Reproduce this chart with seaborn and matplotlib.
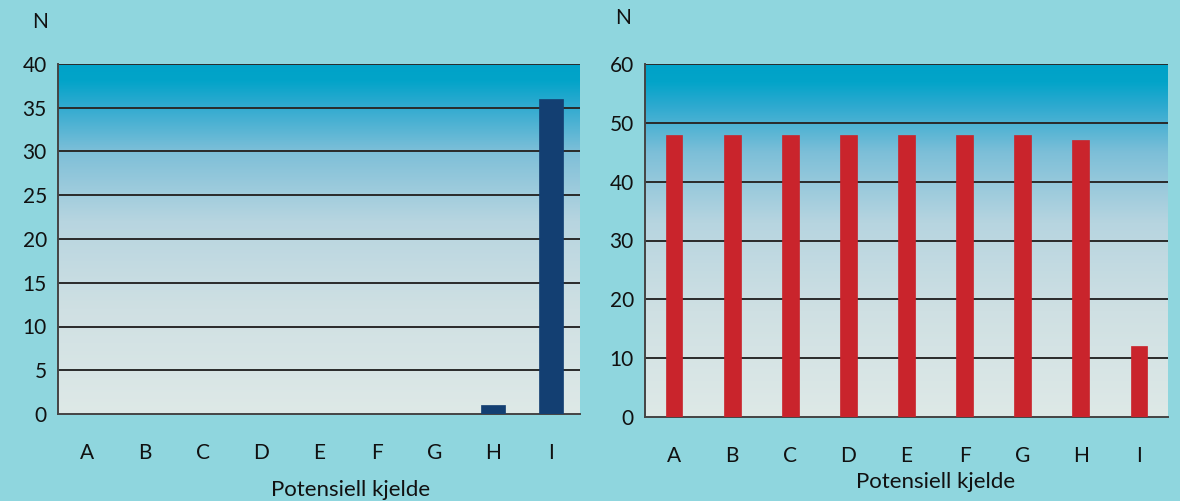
import numpy as np
import pandas as pd
import matplotlib
matplotlib.use("Agg")
import matplotlib.pyplot as plt
import seaborn as sns
from matplotlib.colors import LinearSegmentedColormap
from matplotlib.ticker import FixedLocator

categories = ["A", "B", "C", "D", "E", "F", "G", "H", "I"]
left_values = [0, 0, 0, 0, 0, 0, 0, 1, 36]
right_values = [48, 48, 48, 48, 48, 48, 48, 47, 12]
left_yticks = [0, 5, 10, 15, 20, 25, 30, 35, 40]
right_yticks = [0, 10, 20, 30, 40, 50, 60]
xlabel = "Potensiell kjelde"
ylabel = "N"

sns.set_theme(style="white")
plt.rcParams['font.family'] = ['Lato', 'DejaVu Sans']

BG = "#8fd6de"
FS = 15
fig = plt.figure(figsize=(11.8, 5.01), dpi=100, facecolor=BG)

grad = LinearSegmentedColormap.from_list("g", [
    (0.0, "#dee9e7"),
    (0.3, "#cfe0e3"),
    (0.55, "#b7d5e0"),
    (0.75, "#7dbfd8"),
    (0.88, "#2faad0"),
    (0.95, "#03a4c9"),
    (1.0, "#00a2c8"),
])

def panel(rect, values, yticks, color, width):
    ax = fig.add_axes(rect)
    df = pd.DataFrame({"cat": categories, "val": values})
    sns.barplot(data=df, x="cat", y="val", color=color, width=width, ax=ax,
                saturation=1, zorder=3, edgecolor=color, linewidth=0.5)
    ax.set_xlim(-0.5, len(categories) - 0.5)
    ax.set_ylim(0, yticks[-1])
    g = np.linspace(0, 1, 256).reshape(-1, 1)
    ax.imshow(g, cmap=grad, origin="lower", aspect="auto",
              extent=(-0.5, len(categories) - 0.5, 0, yticks[-1]), zorder=0)
    ax.set_yticks(yticks)
    for t in yticks[1:]:
        ax.axhline(t, color="#2a2a2a", lw=1.4, zorder=2)
    ax.xaxis.set_minor_locator(FixedLocator(np.arange(-0.5, len(categories), 1.0)))
    ax.tick_params(axis="x", which="major", length=0, pad=21, labelsize=FS, colors="#111111")
    ax.tick_params(axis="x", which="minor", length=7, width=1.3, color="#444444", direction="out")
    ax.tick_params(axis="y", length=5, width=1.3, color="#444444", labelsize=FS, pad=3)
    ax.tick_params(axis="y", colors="#444444", labelcolor="#111111")
    for s in ["top", "right"]:
        ax.spines[s].set_visible(False)
    for s in ["left", "bottom"]:
        ax.spines[s].set_color("#444444")
        ax.spines[s].set_linewidth(1.4)
    ax.set_xlabel("")
    ax.set_ylabel("")
    ax.set_facecolor("none")
    return ax

W, H = 1180, 501
axL = panel([58 / W, 1 - 414 / H, 522 / W, 350 / H], left_values, left_yticks,
            "#133f72", 0.42)
axR = panel([645 / W, 1 - 417 / H, 523 / W, 353 / H], right_values, right_yticks,
            "#c9242c", 0.29)

fig.text(351 / W, 1 - 490 / H, xlabel, fontsize=FS + 1, color="#111111", ha="center", va="center")
fig.text(936 / W, 1 - 482 / H, xlabel, fontsize=FS + 1, color="#111111", ha="center", va="center")
fig.text(40 / W, 1 - 22 / H, ylabel, fontsize=FS, color="#111111", ha="center", va="center")
fig.text(623 / W, 1 - 18 / H, ylabel, fontsize=FS, color="#111111", ha="center", va="center")

fig.savefig("out.png", dpi=100, facecolor=BG)
